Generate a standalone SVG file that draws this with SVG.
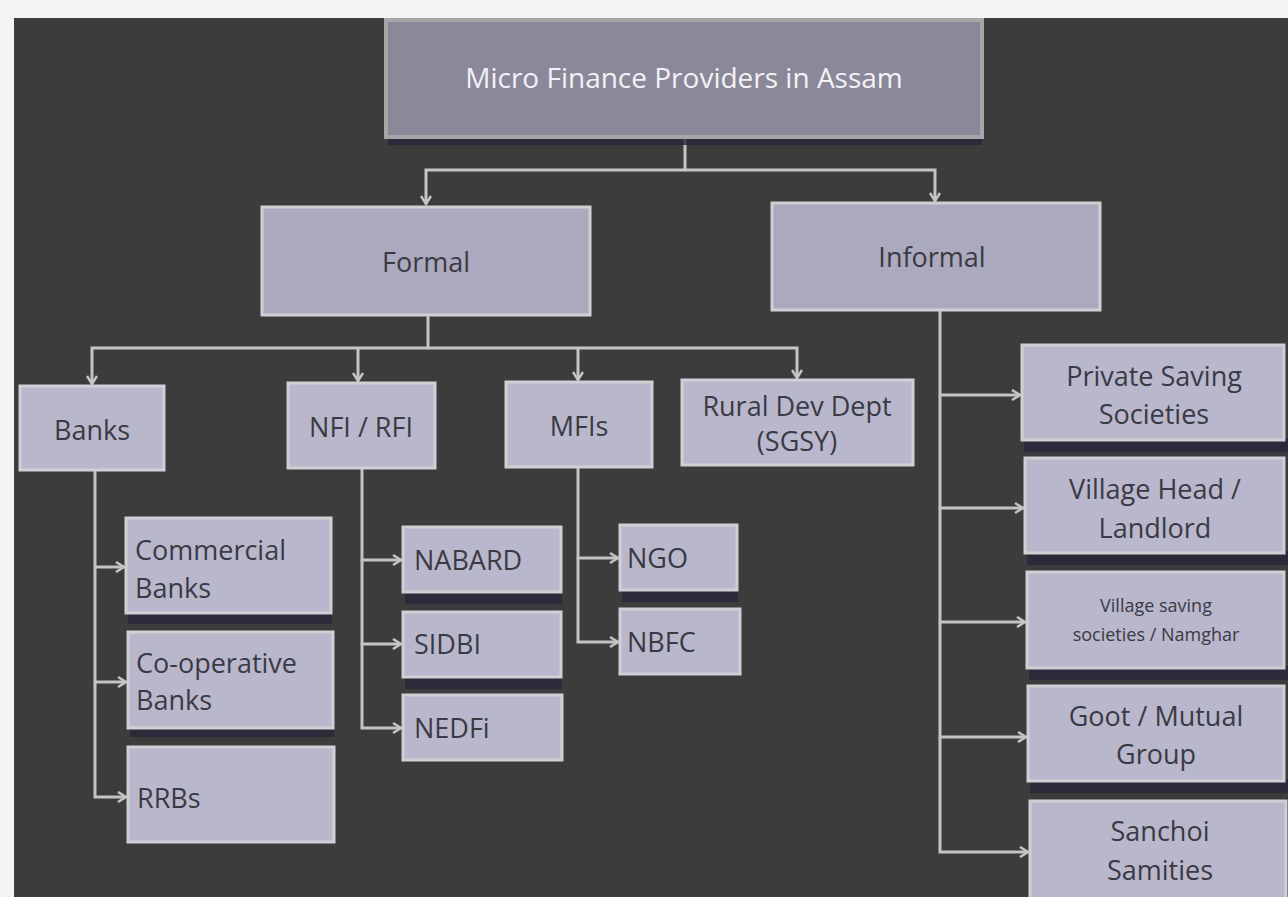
<svg xmlns="http://www.w3.org/2000/svg" width="1288" height="897" viewBox="0 0 1288 897">
<style>
.box{fill:#b9b7cc;stroke:#d0d0d4;stroke-width:3}
.sh{fill:#25253a;opacity:0.8}
.t{font-family:"Open Sans","Liberation Sans",sans-serif;font-size:27px;fill:#3a3a44}
.c{text-anchor:middle}
.ln{fill:none;stroke:#c4c4c4;stroke-width:3}
</style>
<defs>
<marker id="ar" viewBox="0 0 12 12" refX="10" refY="6" markerWidth="12" markerHeight="12" markerUnits="userSpaceOnUse" orient="auto">
<polyline points="2,1 10,6 2,11" fill="none" stroke="#c4c4c4" stroke-width="2.5"/>
</marker>
</defs>
<rect width="1288" height="897" fill="#f4f4f4"/>
<rect x="14" y="18" width="1274" height="879" fill="#3c3c3c"/>

<g id="connectors">
<polyline class="ln" points="685,137 685,170 426,170 426,204" marker-end="url(#ar)"/>
<polyline class="ln" points="685,170 935,170 935,201" marker-end="url(#ar)"/>
<polyline class="ln" points="428,315 428,348 92,348 92,384" marker-end="url(#ar)"/>
<polyline class="ln" points="358,348 358,381" marker-end="url(#ar)"/>
<polyline class="ln" points="578,348 578,380" marker-end="url(#ar)"/>
<polyline class="ln" points="428,348 797,348 797,378" marker-end="url(#ar)"/>
<polyline class="ln" points="95,470 95,567 124,567" marker-end="url(#ar)"/>
<polyline class="ln" points="95,567 95,682 126,682" marker-end="url(#ar)"/>
<polyline class="ln" points="95,682 95,797 126,797" marker-end="url(#ar)"/>
<polyline class="ln" points="362,468 362,560 401,560" marker-end="url(#ar)"/>
<polyline class="ln" points="362,560 362,644 401,644" marker-end="url(#ar)"/>
<polyline class="ln" points="362,644 362,728 401,728" marker-end="url(#ar)"/>
<polyline class="ln" points="578,467 578,558 618,558" marker-end="url(#ar)"/>
<polyline class="ln" points="578,558 578,642 618,642" marker-end="url(#ar)"/>
<polyline class="ln" points="940,310 940,395 1020,395" marker-end="url(#ar)"/>
<polyline class="ln" points="940,395 940,508 1023,508" marker-end="url(#ar)"/>
<polyline class="ln" points="940,508 940,622 1025,622" marker-end="url(#ar)"/>
<polyline class="ln" points="940,622 940,737 1026,737" marker-end="url(#ar)"/>
<polyline class="ln" points="940,737 940,852 1028,852" marker-end="url(#ar)"/>
</g>

<g id="root">
<rect class="sh" x="388" y="125" width="594" height="20"/>
<rect x="386" y="20" width="596" height="117" fill="#8a8899" stroke="#a6a6a6" stroke-width="4"/>
<text class="t c" x="684" y="88" style="fill:#f2f2f6;font-size:28px">Micro Finance Providers in Assam</text>
</g>
<g id="formal">
<rect class="box" x="262" y="207" width="328" height="108" style="fill:#aba9bd"/>
<text class="t c" x="426" y="272">Formal</text>
</g>
<g id="informal">
<rect class="box" x="772" y="203" width="328" height="107" style="fill:#aba9bd"/>
<text class="t c" x="932" y="267">Informal</text>
</g>
<g id="banks">
<rect class="box" x="20" y="386" width="144" height="84"/>
<text class="t c" x="92" y="440">Banks</text>
</g>
<g id="nfi">
<rect class="box" x="288" y="383" width="147" height="85"/>
<text class="t c" x="361" y="437">NFI / RFI</text>
</g>
<g id="mfis">
<rect class="box" x="506" y="382" width="146" height="85"/>
<text class="t c" x="579" y="436">MFIs</text>
</g>
<g id="rural">
<rect class="box" x="682" y="380" width="231" height="85"/>
<text class="t c" x="797" y="416">Rural Dev Dept</text>
<text class="t c" x="797" y="451">(SGSY)</text>
</g>
<g id="commercial">
<rect class="sh" x="128" y="610" width="204" height="14"/>
<rect class="box" x="126" y="518" width="205" height="95"/>
<text class="t" x="135" y="560">Commercial</text>
<text class="t" x="135" y="598">Banks</text>
</g>
<g id="coop">
<rect class="sh" x="130" y="725" width="204" height="12"/>
<rect class="box" x="128" y="632" width="205" height="96"/>
<text class="t" x="136" y="673">Co-operative</text>
<text class="t" x="136" y="710">Banks</text>
</g>
<g id="rrbs">
<rect class="box" x="128" y="747" width="206" height="95"/>
<text class="t" x="137" y="808">RRBs</text>
</g>
<g id="nabard">
<rect class="sh" x="405" y="590" width="157" height="14"/>
<rect class="box" x="403" y="527" width="158" height="65"/>
<text class="t" x="414" y="570">NABARD</text>
</g>
<g id="sidbi">
<rect class="sh" x="405" y="675" width="157" height="14"/>
<rect class="box" x="403" y="612" width="158" height="65"/>
<text class="t" x="414" y="654">SIDBI</text>
</g>
<g id="nedfi">
<rect class="box" x="403" y="695" width="159" height="65"/>
<text class="t" x="414" y="738">NEDFi</text>
</g>
<g id="ngo">
<rect class="sh" x="622" y="588" width="116" height="14"/>
<rect class="box" x="620" y="525" width="117" height="65"/>
<text class="t" x="627" y="568">NGO</text>
</g>
<g id="nbfc">
<rect class="box" x="620" y="609" width="120" height="65"/>
<text class="t" x="627" y="652">NBFC</text>
</g>
<g id="private">
<rect class="sh" x="1024" y="438" width="264" height="14"/>
<rect class="box" x="1022" y="345" width="262" height="95"/>
<text class="t c" x="1154" y="386">Private Saving</text>
<text class="t c" x="1154" y="424">Societies</text>
</g>
<g id="village">
<rect class="sh" x="1027" y="551" width="261" height="14"/>
<rect class="box" x="1025" y="458" width="259" height="95"/>
<text class="t c" x="1155" y="499">Village Head /</text>
<text class="t c" x="1155" y="538">Landlord</text>
</g>
<g id="namghar">
<rect class="sh" x="1029" y="666" width="259" height="14"/>
<rect class="box" x="1027" y="572" width="257" height="96"/>
<text class="t c" x="1156" y="612" style="font-size:18px">Village saving</text>
<text class="t c" x="1156" y="641" style="font-size:18px">societies / Namghar</text>
</g>
<g id="goot">
<rect class="sh" x="1030" y="779" width="258" height="14"/>
<rect class="box" x="1028" y="686" width="256" height="95"/>
<text class="t c" x="1156" y="726">Goot / Mutual</text>
<text class="t c" x="1156" y="764">Group</text>
</g>
<g id="sanchoi">
<rect class="box" x="1030" y="801" width="256" height="98"/>
<text class="t c" x="1160" y="841">Sanchoi</text>
<text class="t c" x="1160" y="880">Samities</text>
</g>
</svg>
